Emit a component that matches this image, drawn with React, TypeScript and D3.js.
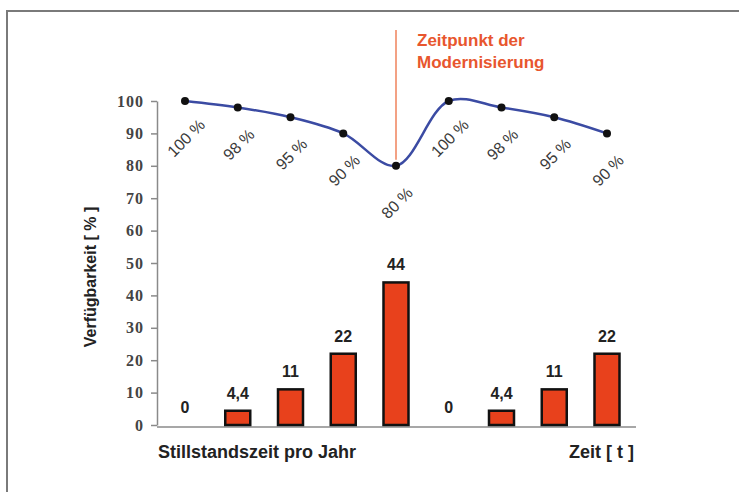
import React, { useEffect, useRef } from 'react';
import * as d3 from 'd3';

// Zeitpunkte (9 Jahre), Verfügbarkeit in % und Stillstandszeit pro Jahr
const periods = [0, 1, 2, 3, 4, 5, 6, 7, 8];
const availability = [100, 98, 95, 90, 80, 100, 98, 95, 90];
const downtime = [0, 4.4, 11, 22, 44, 0, 4.4, 11, 22];
const downtimeLabels = ['0', '4,4', '11', '22', '44', '0', '4,4', '11', '22'];
const yTicks = [0, 10, 20, 30, 40, 50, 60, 70, 80, 90, 100];
const modernisationIndex = 4;

export default function App() {
    const ref = useRef<SVGSVGElement>(null);

    useEffect(() => {
        const width = 739, height = 492;
        const svg = d3.select(ref.current);
        svg.selectAll('*').remove();

        const x = d3.scalePoint<number>().domain(periods).range([185, 607]);
        const y = d3.scaleLinear().domain([0, 100]).range([425, 101]);
        const barW = 25;
        const font = '"Liberation Sans", Arial, sans-serif';

        // Rahmen
        svg.append('path')
            .attr('d', `M7,${height} V11 H${width}`)
            .attr('fill', 'none')
            .attr('stroke', '#7a7a7a')
            .attr('stroke-width', 2);

        // y-Achse
        const yAxis = svg.append('g')
            .attr('transform', 'translate(157,0)')
            .call(d3.axisLeft(y).tickValues(yTicks).tickSize(6).tickPadding(7).tickSizeOuter(0));
        yAxis.select('.domain').attr('stroke', '#8a8a8a').attr('stroke-width', 1.5);
        yAxis.selectAll('.tick line').attr('stroke', '#8a8a8a').attr('stroke-width', 1.5);
        yAxis.selectAll('.tick text')
            .attr('font-family', '"Liberation Serif", "Times New Roman", serif')
            .attr('font-weight', 'bold')
            .attr('font-size', 16)
            .attr('letter-spacing', 1)
            .attr('fill', '#444');

        // x-Grundlinie
        svg.append('line')
            .attr('x1', 157).attr('x2', 636)
            .attr('y1', y(0) + 2).attr('y2', y(0) + 2)
            .attr('stroke', '#8a8a8a').attr('stroke-width', 1.5);

        // Modernisierung
        svg.append('line')
            .attr('x1', x(modernisationIndex)!).attr('x2', x(modernisationIndex)!)
            .attr('y1', 30).attr('y2', y(availability[modernisationIndex]) - 6)
            .attr('stroke', '#f3a184').attr('stroke-width', 2);
        const note = svg.append('text')
            .attr('font-family', font)
            .attr('font-weight', 'bold')
            .attr('font-size', 17)
            .attr('fill', '#e8562e');
        note.append('tspan').attr('x', x(modernisationIndex)! + 21).attr('y', 46).text('Zeitpunkt der');
        note.append('tspan').attr('x', x(modernisationIndex)! + 21).attr('y', 68).text('Modernisierung');

        // Balken
        svg.append('g').selectAll('rect')
            .data(periods.filter(i => downtime[i] > 0))
            .join('rect')
            .attr('x', i => x(i)! - barW / 2)
            .attr('y', i => y(downtime[i]))
            .attr('width', barW)
            .attr('height', i => y(0) - y(downtime[i]))
            .attr('fill', '#e8411c')
            .attr('stroke', '#111')
            .attr('stroke-width', 2.5);

        svg.append('g').selectAll('text')
            .data(periods)
            .join('text')
            .attr('x', i => x(i)!)
            .attr('y', i => y(downtime[i]) - 12)
            .attr('text-anchor', 'middle')
            .attr('font-family', font)
            .attr('font-weight', 'bold')
            .attr('font-size', 16)
            .attr('fill', '#222')
            .text(i => downtimeLabels[i]);

        // Verfügbarkeitskurve
        const line = d3.line<number>()
            .curve(d3.curveCatmullRom.alpha(0.5))
            .x(i => x(i)!)
            .y(i => y(availability[i]));
        svg.append('path')
            .datum(periods)
            .attr('d', line)
            .attr('fill', 'none')
            .attr('stroke', '#3b4ba3')
            .attr('stroke-width', 2.5);

        svg.append('g').selectAll('circle')
            .data(periods)
            .join('circle')
            .attr('cx', i => x(i)!)
            .attr('cy', i => y(availability[i]))
            .attr('r', 4)
            .attr('fill', '#111');

        svg.append('g').selectAll('text')
            .data(periods)
            .join('text')
            .attr('transform', i => `translate(${x(i)! + 2},${y(availability[i]) + 38}) rotate(-45)`)
            .attr('text-anchor', 'middle')
            .attr('dominant-baseline', 'middle')
            .attr('font-family', font)
            .attr('font-size', 16)
            .attr('fill', '#3a3a3a')
            .text(i => `${availability[i]} %`);

        // Beschriftungen
        svg.append('text')
            .attr('transform', 'translate(96,277) rotate(-90)')
            .attr('text-anchor', 'middle')
            .attr('font-family', font)
            .attr('font-weight', 'bold')
            .attr('font-size', 16)
            .attr('fill', '#222')
            .text('Verfügbarkeit [ % ]');

        svg.append('text')
            .attr('x', 158).attr('y', 458)
            .attr('font-family', font)
            .attr('font-weight', 'bold')
            .attr('font-size', 18)
            .attr('fill', '#222')
            .text('Stillstandszeit pro Jahr');

        svg.append('text')
            .attr('x', 634).attr('y', 458)
            .attr('text-anchor', 'end')
            .attr('font-family', font)
            .attr('font-weight', 'bold')
            .attr('font-size', 18)
            .attr('fill', '#222')
            .text('Zeit [ t ]');
    }, []);

    return (
        <svg ref={ref} width={739} height={492}
            style={{ position: 'absolute', left: 0, top: 0, background: '#fff' }} />
    );
}
